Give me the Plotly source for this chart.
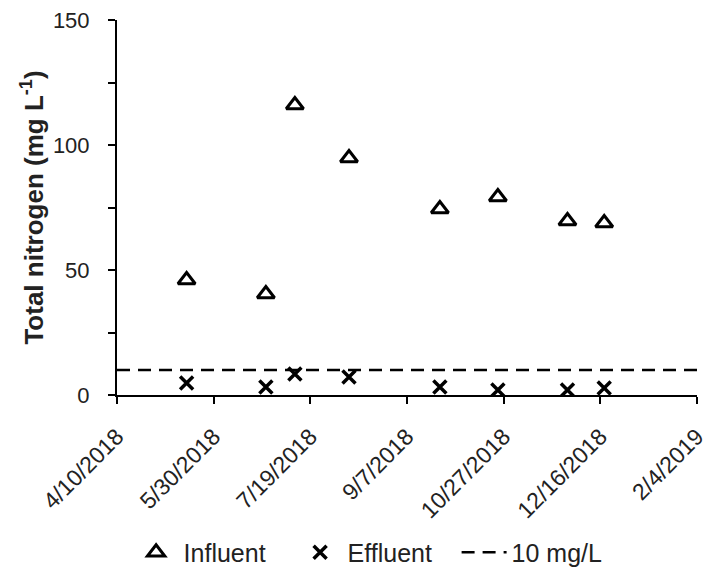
import plotly.graph_objects as go

dates = ["2018-05-16", "2018-06-26", "2018-07-11", "2018-08-08",
         "2018-09-24", "2018-10-24", "2018-11-29", "2018-12-18"]
influent = [46.0, 40.4, 116.0, 94.8, 74.4, 79.2, 69.6, 68.8]
effluent = [4.8, 3.2, 8.4, 7.2, 3.2, 2.0, 2.0, 2.8]
limit_value = 10
limit_dates = ["2018-04-10", "2019-02-04"]
tick_dates = ["2018-04-10", "2018-05-30", "2018-07-19", "2018-09-07",
              "2018-10-27", "2018-12-16", "2019-02-04"]
tick_labels = ["4/10/2018", "5/30/2018", "7/19/2018", "9/7/2018",
               "10/27/2018", "12/16/2018", "2/4/2019"]

font_family = "Liberation Sans, Arial, sans-serif"

fig = go.Figure()
fig.add_trace(go.Scatter(
    x=dates, y=influent, mode="markers", name="Influent",
    marker=dict(symbol="triangle-up-open", size=15, color="black",
                line=dict(width=3, color="black")),
))
fig.add_trace(go.Scatter(
    x=dates, y=effluent, mode="markers", name="Effluent",
    marker=dict(symbol="x-thin-open", size=13, color="black",
                line=dict(width=3.5, color="black")),
))
fig.add_trace(go.Scatter(
    x=limit_dates, y=[limit_value] * len(limit_dates), mode="lines",
    name="10 mg/L",
    line=dict(color="black", width=2.5, dash="13px,8px"),
))

fig.update_layout(
    width=711, height=590,
    margin=dict(l=109, r=22, t=12, b=203),
    plot_bgcolor="white", paper_bgcolor="white",
    font=dict(family=font_family, size=22, color="#222"),
    showlegend=True,
    legend=dict(orientation="h", x=0.02, xanchor="left",
                y=-0.42, yanchor="middle",
                font=dict(size=25, color="#222"),
                itemwidth=45, tracegroupgap=0,
                entrywidth=104, entrywidthmode="pixels"),
)
fig.update_xaxes(
    type="date",
    range=["2018-04-10", "2019-02-04"],
    tickvals=tick_dates, ticktext=tick_labels,
    tickangle=-45,
    showline=True, linecolor="black", linewidth=2,
    ticks="outside", ticklen=7, tickwidth=2, tickcolor="black",
    showgrid=False, zeroline=False, automargin=False,
    ticklabelstandoff=10, ticklabeloverflow="allow",
    tickfont=dict(size=23, color="#222"),
)
fig.update_yaxes(
    range=[0, 150], dtick=50,
    showline=True, linecolor="black", linewidth=2,
    ticks="outside", ticklen=7, tickwidth=2, tickcolor="black",
    minor=dict(dtick=25, ticks="outside", ticklen=7, tickwidth=2, tickcolor="black"),
    showgrid=False, zeroline=False, automargin=False,
    tickfont=dict(size=22, color="#222"),
    ticklabelstandoff=14, ticklabeloverflow="allow",
    title=dict(text="<b>Total nitrogen (mg L<sup>-1</sup>)</b>",
               font=dict(size=26, color="#222"), standoff=2),
)

fig.write_html("out.html")
